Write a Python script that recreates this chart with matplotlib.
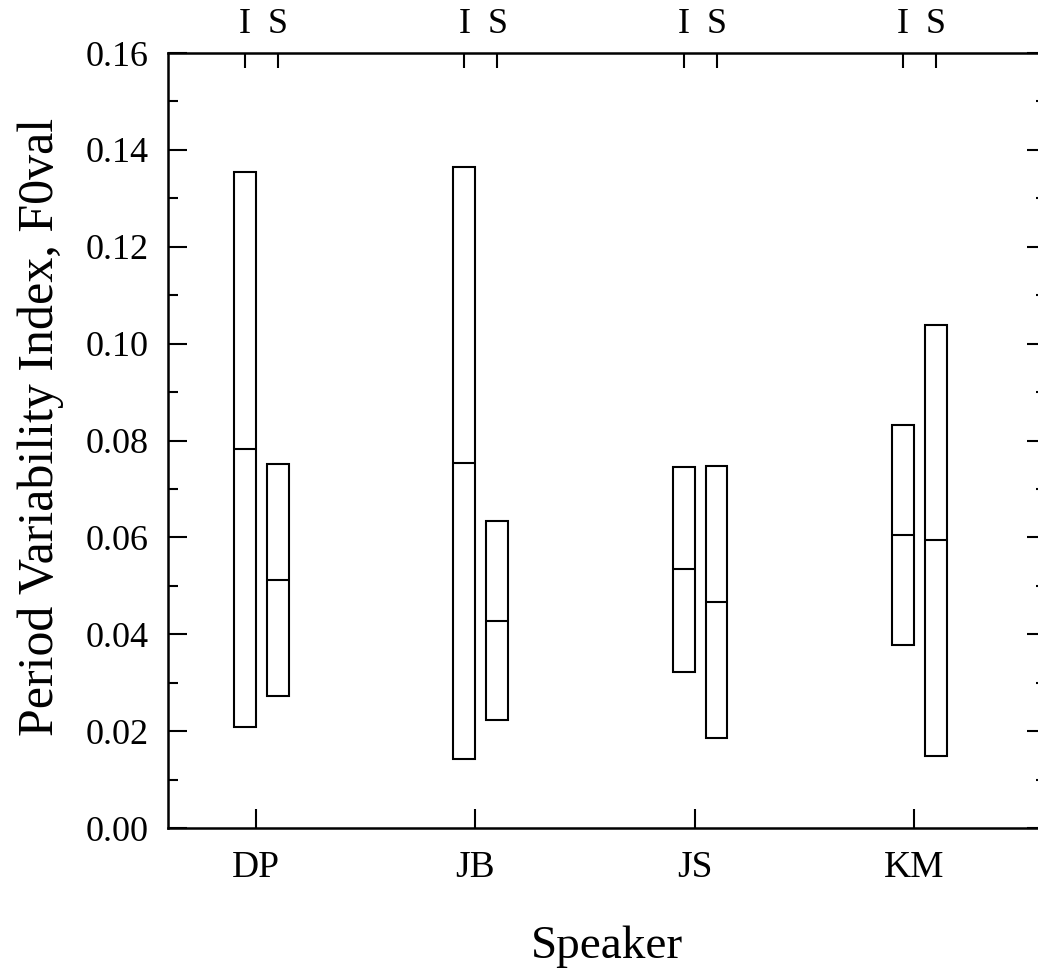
import matplotlib
matplotlib.use("Agg")
import matplotlib.pyplot as plt
from matplotlib.ticker import MultipleLocator
import numpy as np

speakers = ['DP', 'JB', 'JS', 'KM']
I_low = [0.0209, 0.0142, 0.0322, 0.0378]
I_med = [0.0782, 0.0753, 0.0535, 0.0605]
I_high = [0.1354, 0.1365, 0.0745, 0.0832]
S_low = [0.0272, 0.0223, 0.0186, 0.0149]
S_med = [0.0512, 0.0427, 0.0467, 0.0595]
S_high = [0.0751, 0.0634, 0.0747, 0.1038]
top_labels = ['I', 'S']
yticks = [0.00, 0.02, 0.04, 0.06, 0.08, 0.10, 0.12, 0.14, 0.16]

plt.rcParams['font.family'] = ['Liberation Serif', 'DejaVu Serif']

W, H = 1038, 972
fig = plt.figure(figsize=(W / 100, H / 100), dpi=100)
left, right, bottom, top = 168, 1046, 828, 53
ax = fig.add_axes([left / W, 1 - bottom / H, (right - left) / W, (bottom - top) / H])

x = np.arange(len(speakers))
bw = 0.1
xi = x - bw / 2
xs = x + 0.1

lw = 1.5
ax.bar(xi, np.array(I_high) - np.array(I_low), bottom=I_low, width=bw,
       fill=False, edgecolor='black', linewidth=lw)
ax.bar(xs, np.array(S_high) - np.array(S_low), bottom=S_low, width=bw,
       fill=False, edgecolor='black', linewidth=lw)
ax.hlines(I_med, xi - bw / 2, xi + bw / 2, colors='black', linewidth=lw)
ax.hlines(S_med, xs - bw / 2, xs + bw / 2, colors='black', linewidth=lw)

ax.set_xlim(-0.401, (right - 256) / 219.3)
ax.set_ylim(0, 0.16)
ax.set_yticks(yticks)
ax.set_yticklabels([f'{v:.2f}' for v in yticks])
ax.yaxis.set_minor_locator(MultipleLocator(0.01))
ax.set_xticks(x)
ax.set_xticklabels(speakers)

for s in ax.spines.values():
    s.set_linewidth(1.8)

ax.tick_params(axis='y', which='major', direction='in', length=14, width=1.5,
               labelsize=26, pad=14, right=True)
ax.tick_params(axis='y', which='minor', direction='in', length=7, width=1.5, right=True)
ax.tick_params(axis='x', which='major', direction='in', length=14, width=1.5,
               labelsize=27, pad=16, top=False)

ax.set_xlabel('Speaker', fontsize=34, labelpad=29)
ax.set_ylabel('Period Variability Index, F0val', fontsize=36)
ax.yaxis.set_label_coords(-0.118, 0.517)

ax2 = ax.twiny()
ax2.set_xlim(ax.get_xlim())
top_pos = np.sort(np.concatenate([xi, xs]))
ax2.set_xticks(top_pos)
ax2.set_xticklabels(top_labels * len(speakers))
ax2.tick_params(axis='x', direction='in', length=11, width=1.5, labelsize=26, pad=9)
for s in ax2.spines.values():
    s.set_visible(False)

fig.savefig('out.png', dpi=100)
